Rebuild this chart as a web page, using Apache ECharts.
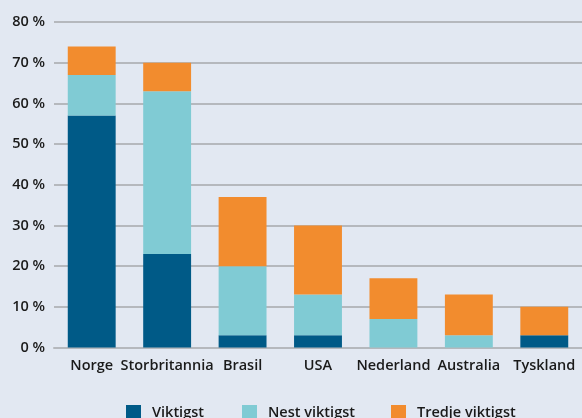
<!DOCTYPE html>
<html>
<head>
<meta charset="utf-8">
<script src="https://cdn.jsdelivr.net/npm/echarts@6/dist/echarts.min.js"></script>
<style>
  html, body { margin: 0; padding: 0; background: #e2e8f2; }
  #chart { width: 582px; height: 418px; }
</style>
</head>
<body>
<div id="chart"></div>
<script>
// Countries and share (%) of answers per rank
const categories = ['Norge', 'Storbritannia', 'Brasil', 'USA', 'Nederland', 'Australia', 'Tyskland'];
const viktigst = [57, 23, 3, 3, 0, 0, 3];
const nestViktigst = [10, 40, 17, 10, 7, 3, 0];
const tredjeViktigst = [7, 7, 17, 17, 10, 10, 7];
const seriesNames = ['Viktigst', 'Nest viktigst', 'Tredje viktigst'];
const colors = ['#005a87', '#80cbd4', '#f28c2e'];

const font = '"Open Sans", "Noto Sans", sans-serif';
const textStyle = { fontFamily: font, fontSize: 14.5, fontWeight: 600, color: '#1a1a1a' };
const chart = echarts.init(document.getElementById('chart'));

const makeSeries = (name, data, color) => ({
  name: name,
  type: 'bar',
  stack: 'total',
  data: data,
  barWidth: '63.5%',
  itemStyle: { color: color },
  emphasis: { disabled: true }
});

// one legend entry per component so each can be placed on its own
const legendLefts = [126, 242, 391];
const legends = seriesNames.map((name, i) => ({
  data: [name],
  top: 405,
  left: legendLefts[i],
  padding: 0,
  itemWidth: 15,
  itemHeight: 15,
  itemGap: 0,
  icon: 'rect',
  selectedMode: false,
  textStyle: Object.assign({}, textStyle, { padding: [0, 0, 0, 6] })
}));

chart.setOption({
  backgroundColor: '#e2e8f2',
  animation: false,
  color: colors,
  grid: { left: 54, right: 0, top: 22, bottom: 70.5, containLabel: false },
  legend: legends,
  xAxis: {
    type: 'category',
    data: categories,
    axisLine: { show: true, lineStyle: { color: '#b5b8bd', width: 2 } },
    axisTick: { show: false },
    axisLabel: Object.assign({}, textStyle, { margin: 11, interval: 0 })
  },
  yAxis: {
    type: 'value',
    min: 0,
    max: 80,
    interval: 10,
    axisLine: { show: false },
    axisTick: { show: false },
    splitLine: { lineStyle: { color: '#b5b8bd', width: 2 } },
    axisLabel: Object.assign({}, textStyle, { margin: 9, formatter: v => v + ' %' })
  },
  series: [
    makeSeries(seriesNames[0], viktigst, colors[0]),
    makeSeries(seriesNames[1], nestViktigst, colors[1]),
    makeSeries(seriesNames[2], tredjeViktigst, colors[2])
  ]
});
</script>
</body>
</html>
